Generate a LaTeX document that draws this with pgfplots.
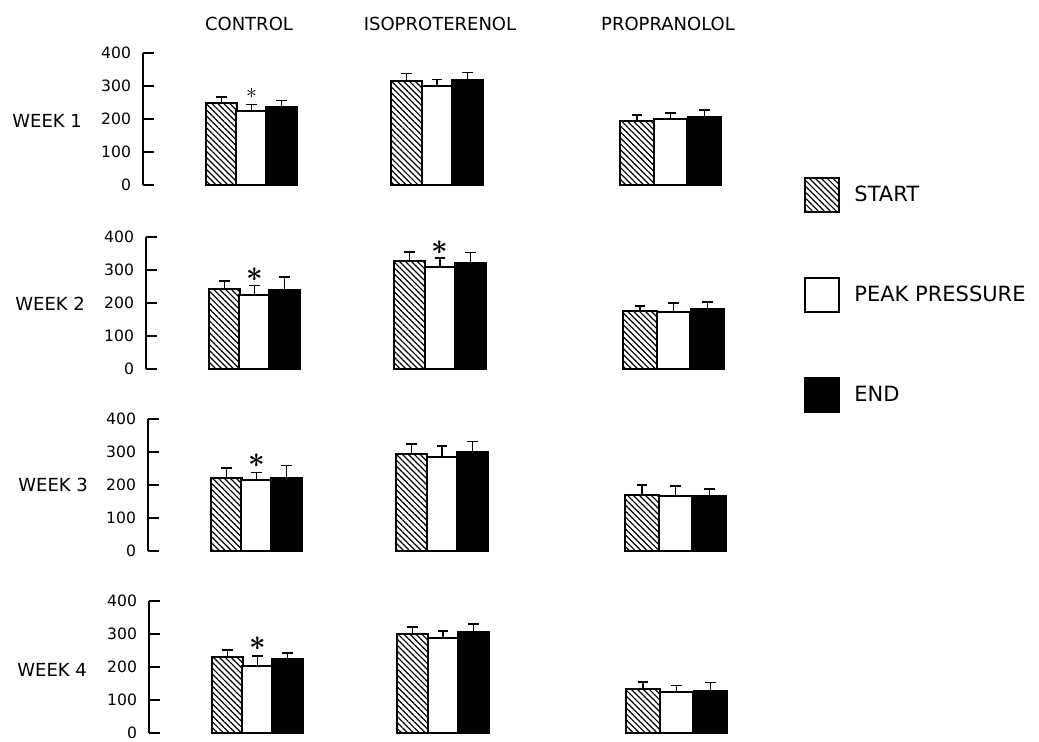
\documentclass[border=0pt]{standalone}
\usepackage{pgfplots}
\pgfplotsset{compat=1.18}
\usepackage{fontspec}
\setmainfont{DejaVu Sans}
\usetikzlibrary{patterns.meta}
\pgfplotsset{
  weekaxis/.style={
    x=0.5pt, y=0.165pt,
    xmin=0, xmax=600, ymin=0, ymax=400,
    anchor=south west,
    axis y line*=left, axis x line=none,
    y axis line style={line width=1pt},
    ytick={0,100,200,300,400}, xtick=\empty,
    ytick align=inside, major tick length=5.5pt,
    major tick style={line width=1pt, black},
    yticklabel style={font=\fontsize{7.8}{9}\selectfont, xshift=-2.5pt},
    /pgf/number format/assume math mode=true,
    ybar, bar shift=0pt, clip=false,
    error bars/y dir=plus, error bars/y explicit,
    error bars/error mark=-,
    error bars/error bar style={line width=0.9pt, black, solid},
    error bars/error mark options={rotate=90, line width=0.9pt, mark size=2.6pt, black, solid},
  },
  startbar/.style={draw=black, line width=1pt, pattern={Lines[angle=-45,distance=2.1pt,line width=0.6pt]}},
  peakbar/.style={draw=black, line width=1pt, fill=white},
  endbar/.style={draw=black, line width=1pt, fill=black},
}
\newcommand\sigstar[2]{\node[font=\fontsize{15}{15}\selectfont] at (axis cs:#1,#2) {$\boldsymbol{\ast}$};}
\usepackage{amsmath}
\begin{document}
\begin{tikzpicture}
\path[use as bounding box] (0,0) rectangle (519.5pt,370.5pt);
% titles
\node[anchor=base, font=\fontsize{9}{11}\selectfont] at (124.5pt,355pt) {CONTROL};
\node[anchor=base, font=\fontsize{9}{11}\selectfont] at (220pt,355pt) {ISOPROTERENOL};
\node[anchor=base, font=\fontsize{9}{11}\selectfont] at (334pt,355pt) {PROPRANOLOL};
\node[anchor=base west, inner sep=0pt, font=\fontsize{9}{11}\selectfont] at (6pt,306.5pt) {WEEK 1};
\node[anchor=base west, inner sep=0pt, font=\fontsize{9}{11}\selectfont] at (7.5pt,215.15pt) {WEEK 2};
\node[anchor=base west, inner sep=0pt, font=\fontsize{9}{11}\selectfont] at (9pt,124.65pt) {WEEK 3};
\node[anchor=base west, inner sep=0pt, font=\fontsize{9}{11}\selectfont] at (8.5pt,32.5pt) {WEEK 4};

% WEEK 1
\begin{axis}[weekaxis, at={(71.5pt,278pt)},
  legend entries={START, PEAK PRESSURE, END},
  legend cell align=left,
  legend image code/.code={\draw[#1] (0pt,-8.5pt) rectangle (17pt,8.5pt); \path (22pt,0pt);},
  legend style={at={(1.1017,0.0606)}, anchor=north west, draw=none, fill=none,
    font=\fontsize{10.5}{12}\selectfont, row sep=32pt, inner sep=0pt},
  ]
\addplot[startbar, bar width=30.5] coordinates {(78.5,250) +- (0,16) (263.5,314) +- (0,24)};
\addplot[peakbar, bar width=30.5] coordinates {(108.5,223) +- (0,21) (294,299) +- (0,21)};
\addplot[endbar, bar width=30.5] coordinates {(138.5,235) +- (0,21) (324.5,319) +- (0,22)};
\addplot[startbar, bar width=33.5] coordinates {(494,193) +- (0,18)};
\addplot[peakbar, bar width=33.5] coordinates {(527.5,200) +- (0,17)};
\addplot[endbar, bar width=33.5] coordinates {(561.5,205) +- (0,23)};
\node[font=\fontsize{11}{11}\selectfont] at (axis cs:108.5,277) {$\ast$};
\end{axis}

% WEEK 2
\begin{axis}[weekaxis, at={(73pt,186pt)}]
\addplot[startbar, bar width=30.5] coordinates {(78.5,242) +- (0,25) (263.5,328) +- (0,27)};
\addplot[peakbar, bar width=30.5] coordinates {(108.5,223) +- (0,30) (294,309) +- (0,27)};
\addplot[endbar, bar width=30.5] coordinates {(138.5,239) +- (0,40) (324.5,321) +- (0,32)};
\addplot[startbar, bar width=33.5] coordinates {(494,176) +- (0,16)};
\addplot[peakbar, bar width=33.5] coordinates {(527.5,173) +- (0,27)};
\addplot[endbar, bar width=33.5] coordinates {(561.5,183) +- (0,20)};
\sigstar{108.5}{286}
\sigstar{294}{368}
\end{axis}

% WEEK 3
\begin{axis}[weekaxis, at={(74pt,95pt)}]
\addplot[startbar, bar width=30.5] coordinates {(78.5,222) +- (0,29) (263.5,293) +- (0,31)};
\addplot[peakbar, bar width=30.5] coordinates {(108.5,214) +- (0,24) (294,285) +- (0,33)};
\addplot[endbar, bar width=30.5] coordinates {(138.5,220) +- (0,39) (324.5,300) +- (0,32)};
\addplot[startbar, bar width=33.5] coordinates {(494,169) +- (0,32)};
\addplot[peakbar, bar width=33.5] coordinates {(527.5,167) +- (0,29)};
\addplot[endbar, bar width=33.5] coordinates {(561.5,168) +- (0,20)};
\sigstar{108.5}{273}
\end{axis}

% WEEK 4
\begin{axis}[weekaxis, at={(74.5pt,4pt)}]
\addplot[startbar, bar width=30.5] coordinates {(78.5,231) +- (0,21) (263.5,299) +- (0,23)};
\addplot[peakbar, bar width=30.5] coordinates {(108.5,204) +- (0,30) (294,287) +- (0,23)};
\addplot[endbar, bar width=30.5] coordinates {(138.5,224) +- (0,18) (324.5,305) +- (0,25)};
\addplot[startbar, bar width=33.5] coordinates {(494,134) +- (0,20)};
\addplot[peakbar, bar width=33.5] coordinates {(527.5,124) +- (0,20)};
\addplot[endbar, bar width=33.5] coordinates {(561.5,127) +- (0,26)};
\sigstar{108.5}{270}
\end{axis}
\end{tikzpicture}
\end{document}
